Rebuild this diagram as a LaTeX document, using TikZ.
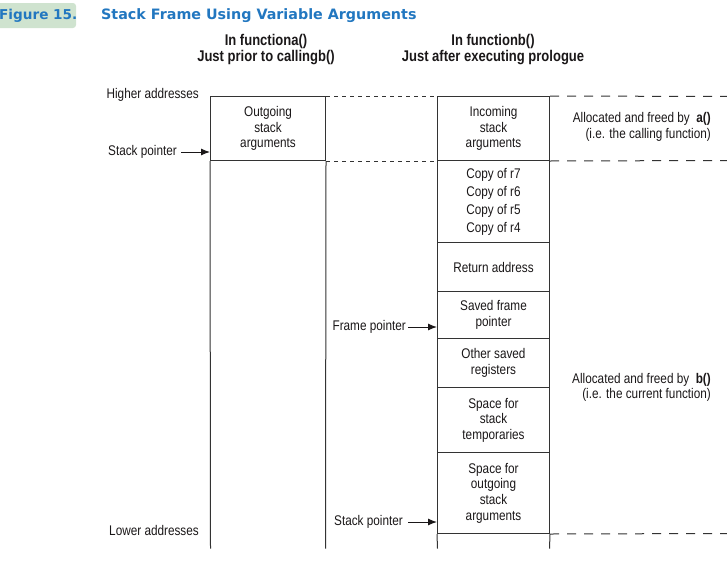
\documentclass[tikz,border=0pt]{standalone}
\usepackage{fontspec}
\setmainfont{Liberation Sans}[FakeStretch=0.84]
\newfontfamily\titlefont{DejaVu Sans}
\usetikzlibrary{arrows.meta}

\definecolor{titleblue}{HTML}{2277C0}
\definecolor{titlebg}{HTML}{CFE3CF}
\definecolor{ink}{HTML}{1A1718}
\definecolor{rule}{HTML}{333333}

\newcommand{\lblfont}{\fontsize{14}{15.6}\selectfont}
\newcommand{\headfont}{\fontsize{15.5}{16}\selectfont\bfseries}
\newcommand{\ttlfont}{\titlefont\fontsize{14.3}{16}\selectfont\bfseries}

\tikzset{
  lbl/.style={font=\lblfont, text=ink, inner sep=0pt},
  cell/.style={draw=rule, line width=1pt, rectangle, inner sep=0pt,
    align=center, font=\lblfont, text=ink},
  rcell/.style={cell, minimum width=112pt},
  col/.style={draw=rule, line width=1pt},
  shortdash/.style={draw=rule, line width=1pt, dash pattern=on 4pt off 4pt},
  longdash/.style={draw=rule, line width=1pt, dash pattern=on 9pt off 8pt},
  ptr/.style={draw=ink, line width=1pt, -{Latex[length=9pt,width=7pt]}},
}

\begin{document}
\begin{tikzpicture}[x=1pt, y=-1pt]
\useasboundingbox (0,0) rectangle (727,562);

% title bar
\fill[titlebg, rounded corners=3pt] (-4,3) rectangle (76,28);
\node[anchor=west, inner sep=0pt, font=\titlefont\fontsize{13.6}{16}\selectfont\bfseries, text=titleblue] (fig) at (-1,15.5) {Figure 15.};
\node[anchor=west, inner sep=0pt, font=\ttlfont, text=titleblue] (title) at (101,15.5) {Stack Frame Using Variable Arguments};

% column headings
\node[align=center, font=\headfont, text=ink, inner sep=0pt] (headA) at (266,50) {In functiona()\\Just prior to callingb()};
\node[align=center, font=\headfont, text=ink, inner sep=0pt] (headB) at (493,50) {In functionb()\\Just after executing prologue};

% rules sit on pixel centres
\begin{scope}[shift={(0.5,0.5)}]
% caller frame (left column)
\node[cell, minimum width=115pt, minimum height=64pt] (outg) at (267.5,128) {Outgoing\\stack\\arguments};
\coordinate (lbotW) at (210,548);
\coordinate (lbotE) at (325,548);
\draw[col] (outg.south west) -- (lbotW);
\draw[col] (outg.south east) -- (lbotE);

% callee frame (right column)
\node[rcell, minimum height=64pt] (inc)  at (493,128)   {Incoming\\stack\\arguments};
\node[rcell, minimum height=82pt] (regs) at (493,201)   {Copy of r7\\[2.4pt]Copy of r6\\[2.4pt]Copy of r5\\[2.4pt]Copy of r4};
\node[rcell, minimum height=49pt] (ret)  at (493,266.5) {Return address};
\node[rcell, minimum height=47pt] (sfp)  at (493,314.5) {Saved frame\\pointer};
\node[rcell, minimum height=49pt] (osr)  at (493,362.5) {Other saved\\registers};
\node[rcell, minimum height=65pt] (tmp)  at (493,419.5) {Space for\\stack\\temporaries};
\node[rcell, minimum height=81pt] (outb) at (493,492.5) {Space for\\outgoing\\stack\\arguments};
\coordinate (rbotW) at (437,548);
\coordinate (rbotE) at (549,548);
\draw[col] (outb.south west) -- (rbotW);
\draw[col] (outb.south east) -- (rbotE);

% frame boundaries
\draw[shortdash] (outg.north east) -- (inc.north west);
\draw[shortdash] (outg.south east) -- (inc.south west);
\coordinate (edgeTop) at (727,96);
\coordinate (edgeMid) at (727,160);
\coordinate (edgeBot) at (727,533);
\draw[longdash] (inc.north east) -- (edgeTop);
\draw[longdash] (inc.south east) -- (edgeMid);
\draw[longdash] (outb.south east) -- (edgeBot);
\end{scope}

% address labels
\node[lbl, anchor=east] (hi) at (199,95) {Higher addresses};
\node[lbl, anchor=east] (lo) at (199,530) {Lower addresses};

% pointers
\node[lbl, anchor=east] (spA) at (177,152) {Stack pointer};
\draw[ptr] ([xshift=4pt]spA.east) -- (spA.east -| outg.west);
\node[lbl, anchor=east] (fp) at (406,327) {Frame pointer};
\draw[ptr] ([xshift=2pt]fp.east) -- (fp.east -| inc.west);
\node[lbl, anchor=east] (spB) at (403,522) {Stack pointer};
\draw[ptr] ([xshift=5pt]spB.east) -- (spB.east -| inc.west);

% ownership notes
\node[lbl, align=right, anchor=east] (ownA) at (711,127) {Allocated and freed by \ \textbf{a()}\\(i.e. the calling function)};
\node[lbl, align=right, anchor=east] (ownB) at (711,387.5) {Allocated and freed by \ \textbf{b()}\\(i.e. the current function)};
\end{tikzpicture}
\end{document}
